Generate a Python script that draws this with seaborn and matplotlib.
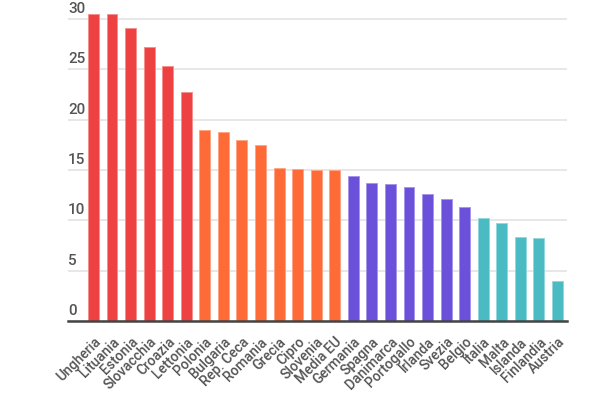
import matplotlib
matplotlib.use("Agg")
import matplotlib.pyplot as plt
import matplotlib.transforms as mtransforms
import seaborn as sns
import pandas as pd

countries = ["Ungheria", "Lituania", "Estonia", "Slovacchia", "Croazia", "Lettonia",
             "Polonia", "Bulgaria", "Rep. Ceca", "Romania", "Grecia", "Cipro", "Slovenia", "Media EU",
             "Germania", "Spagna", "Danimarca", "Portogallo", "Irlanda", "Svezia", "Belgio",
             "Italia", "Malta", "Islanda", "Finlandia", "Austria"]
values = [30.5, 30.5, 29.1, 27.2, 25.3, 22.8,
          19.0, 18.8, 18.0, 17.5, 15.2, 15.1, 15.0, 15.0,
          14.4, 13.7, 13.6, 13.3, 12.6, 12.1, 11.3,
          10.2, 9.7, 8.3, 8.2, 4.0]
groups = ["A"] * 6 + ["B"] * 8 + ["C"] * 7 + ["D"] * 5
group_colors = {"A": "#EE4242", "B": "#FF6B36", "C": "#6B51D9", "D": "#4ABAC3"}
edge_colors = {"A": "#F59090", "B": "#FFA585", "C": "#A795EA", "D": "#92D8DD"}
yticks = [0, 5, 10, 15, 20, 25, 30]

df = pd.DataFrame({"country": countries, "value": values, "group": groups})

sns.set_theme(style="white")
plt.rcParams["font.family"] = ["Roboto", "DejaVu Sans"]

fig = plt.figure(figsize=(6, 4), dpi=100)
ax = fig.add_axes([68 / 600, 79 / 400, 499 / 600, 312 / 400])

sns.barplot(data=df, x="country", y="value", hue="group", palette=group_colors,
            dodge=False, legend=False, width=0.59, ax=ax, saturation=1)
for patch, g in zip(ax.patches, groups):
    patch.set_edgecolor(edge_colors[g])
    patch.set_linewidth(0.7)

ax.set_ylim(0, 31)
ax.set_xlim(-1.37, len(countries) - 1 + 0.51)
ax.set_yticks(yticks)
ax.yaxis.grid(True, color="#E3E3E3", linewidth=1.2)
ax.set_axisbelow(True)
ax.tick_params(axis="y", left=False, labelleft=False)
trans = mtransforms.blended_transform_factory(ax.transAxes, ax.transData)
for t in yticks:
    ax.text(0.0, t + 0.3, str(t), transform=trans, ha="left", va="bottom",
            fontsize=11, fontweight="medium", color="#555555")

for s in ["top", "right", "left"]:
    ax.spines[s].set_visible(False)
ax.spines["bottom"].set_color("#444444")
ax.spines["bottom"].set_linewidth(1.8)

ax.set_xlabel("")
ax.set_ylabel("")
ax.tick_params(axis="x", bottom=False, pad=4)
ax.set_xticks(range(len(countries)))
ax.set_xticklabels(countries, rotation=45, ha="right", rotation_mode="anchor",
                   fontsize=10, fontweight="medium", color="#555555")

fig.savefig("out.png", dpi=100)
